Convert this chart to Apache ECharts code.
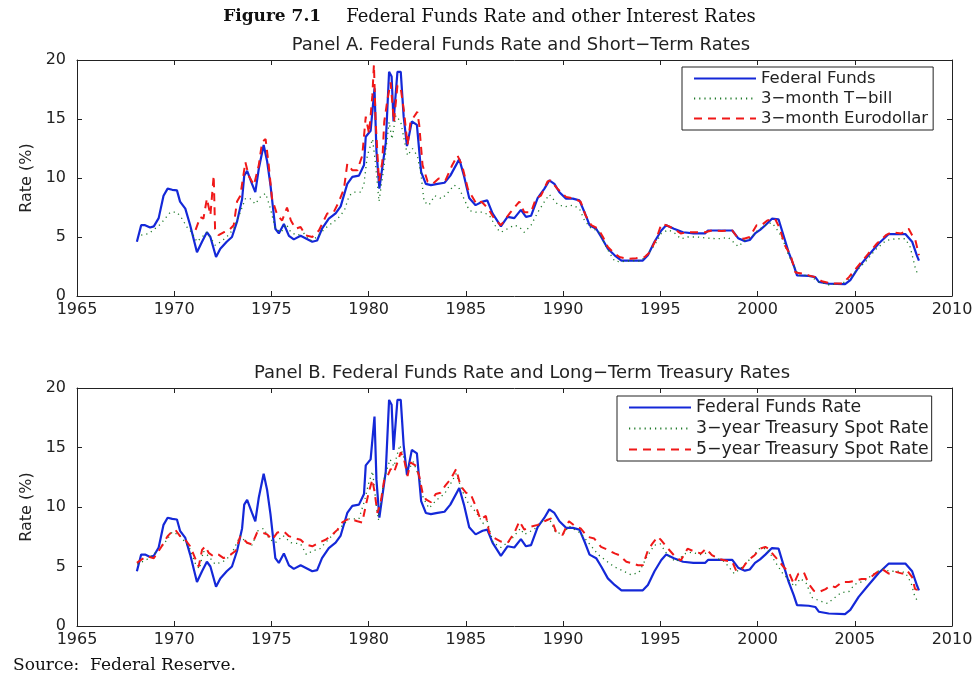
<!DOCTYPE html>
<html>
<head>
<meta charset="utf-8">
<script src="https://cdn.jsdelivr.net/npm/echarts@6/dist/echarts.min.js"></script>
<style>
  html, body { margin: 0; padding: 0; background: #fff; }
  #chart { width: 979px; height: 673px; }
</style>
</head>
<body>
<div id="chart"></div>
<script>
// Federal funds rate (monthly readings, [year, percent])
const fedFunds = [
  [1968.08,4.6],[1968.3,6.0],[1968.5,6.0],[1968.76,5.8],[1968.95,5.9],[1969.2,6.6],[1969.45,8.5],[1969.66,9.1],[1969.9,9.0],
  [1970.14,8.95],[1970.3,8.0],[1970.57,7.4],[1970.82,6.0],[1971.17,3.7],[1971.43,4.6],[1971.68,5.4],[1971.86,5.0],
  [1972.15,3.3],[1972.37,4.0],[1972.7,4.6],[1972.97,5.0],[1973.23,6.3],[1973.49,8.2],[1973.6,10.2],[1973.75,10.6],
  [1974.0,9.5],[1974.17,8.8],[1974.35,10.8],[1974.6,12.8],[1974.78,11.4],[1974.95,9.4],[1975.2,5.7],[1975.38,5.3],
  [1975.64,6.1],[1975.9,5.1],[1976.15,4.8],[1976.5,5.1],[1976.75,4.9],[1977.1,4.6],[1977.35,4.7],[1977.6,5.7],
  [1977.95,6.55],[1978.3,7.0],[1978.56,7.6],[1978.9,9.5],[1979.16,10.1],[1979.5,10.2],[1979.76,11.1],[1979.85,13.5],
  [1980.1,14.0],[1980.3,17.6],[1980.4,12.3],[1980.55,9.1],[1980.88,13.0],[1981.05,19.0],[1981.18,18.6],[1981.28,14.8],
  [1981.48,19.0],[1981.65,19.0],[1981.8,15.2],[1981.97,12.7],[1982.22,14.8],[1982.48,14.5],[1982.7,10.5],[1982.94,9.5],
  [1983.2,9.4],[1983.54,9.5],[1983.9,9.6],[1984.2,10.2],[1984.66,11.6],[1984.9,10.2],[1985.17,8.3],[1985.5,7.7],
  [1985.86,8.0],[1986.1,8.1],[1986.37,7.0],[1986.8,5.9],[1987.14,6.7],[1987.49,6.6],[1987.83,7.3],[1988.09,6.7],
  [1988.35,6.8],[1988.69,8.3],[1989.04,9.1],[1989.29,9.8],[1989.55,9.5],[1989.81,8.8],[1990.15,8.25],[1990.5,8.25],
  [1990.84,8.1],[1991.1,7.1],[1991.36,6.0],[1991.7,5.7],[1991.96,5.0],[1992.3,4.0],[1992.65,3.45],[1993.0,3.0],
  [1993.5,3.0],[1994.1,3.0],[1994.36,3.45],[1994.7,4.6],[1995.05,5.55],[1995.3,6.0],[1995.7,5.7],[1996.17,5.4],
  [1996.7,5.3],[1997.3,5.3],[1997.45,5.55],[1998.0,5.55],[1998.7,5.55],[1999.0,4.9],[1999.35,4.65],[1999.6,4.75],
  [1999.87,5.3],[2000.13,5.6],[2000.4,6.0],[2000.74,6.55],[2001.08,6.5],[2001.34,5.1],[2001.6,3.7],[2001.86,2.6],
  [2002.03,1.75],[2002.63,1.7],[2002.97,1.6],[2003.15,1.2],[2003.66,1.05],[2004.5,1.0],[2004.77,1.35],[2005.2,2.45],
  [2005.63,3.3],[2006.23,4.45],[2006.75,5.25],[2007.6,5.25],[2007.95,4.6],[2008.2,3.4],[2008.3,3.0]
];

// 3-month Treasury bill rate
const tBill3m = [
  [1968.3,5.15],[1968.7,5.3],[1969.3,6.1],[1969.8,7.1],[1970.14,7.1],[1970.4,6.55],[1970.65,5.85],[1970.9,5.4],
  [1971.17,4.6],[1971.43,5.0],[1971.68,5.4],[1971.86,5.0],[1972.1,4.3],[1972.4,4.6],[1972.7,5.0],[1973.06,5.7],
  [1973.4,7.1],[1973.66,8.25],[1973.9,8.25],[1974.17,7.8],[1974.43,8.4],[1974.7,8.7],[1974.95,7.4],[1975.2,5.7],
  [1975.5,5.4],[1975.76,6.1],[1976.0,5.4],[1976.3,5.15],[1976.7,5.3],[1977.0,4.7],[1977.35,5.0],[1977.74,5.7],
  [1978.05,6.1],[1978.4,6.55],[1978.75,7.25],[1979.0,8.5],[1979.25,8.8],[1979.6,8.8],[1979.76,9.5],[1979.93,11.9],
  [1980.2,13.3],[1980.36,11.1],[1980.53,8.0],[1980.8,11.1],[1981.05,14.75],[1981.2,13.3],[1981.4,15.3],[1981.65,14.75],
  [1981.82,13.3],[1982.0,11.9],[1982.25,12.5],[1982.5,11.9],[1982.7,10.2],[1982.85,8.0],[1983.1,7.7],[1983.4,8.5],
  [1983.75,8.25],[1984.05,8.7],[1984.4,9.4],[1984.66,9.1],[1984.9,8.25],[1985.17,7.25],[1985.5,7.1],[1985.86,7.1],
  [1986.2,6.85],[1986.6,5.7],[1986.8,5.4],[1987.14,5.7],[1987.5,6.0],[1987.75,5.85],[1988.0,5.4],[1988.35,6.0],
  [1988.7,7.1],[1989.04,8.0],[1989.29,8.6],[1989.7,7.8],[1990.05,7.55],[1990.5,7.7],[1990.84,7.4],[1991.1,6.4],
  [1991.45,5.7],[1991.8,5.55],[1992.05,4.7],[1992.3,3.9],[1992.65,2.95],[1993.0,2.9],[1993.5,3.0],[1994.0,2.95],
  [1994.36,3.6],[1994.7,4.3],[1995.05,5.3],[1995.4,5.6],[1995.7,5.4],[1996.05,4.85],[1996.4,5.0],[1996.9,5.0],
  [1997.45,4.9],[1997.95,4.85],[1998.5,4.95],[1999.0,4.2],[1999.35,4.7],[1999.7,5.0],[2000.0,5.55],[2000.5,6.1],
  [2000.75,6.2],[2001.1,5.4],[2001.34,4.6],[2001.6,3.45],[2001.86,2.6],[2002.1,1.75],[2002.63,1.75],[2003.15,1.2],
  [2003.66,0.95],[2004.35,1.05],[2004.7,1.45],[2005.0,2.0],[2005.55,2.9],[2006.05,3.9],[2006.6,4.7],[2007.1,4.85],
  [2007.6,4.85],[2007.85,4.15],[2008.1,2.45],[2008.25,1.75]
];

// 3-month Eurodollar deposit rate
const euroDollar3m = [
  [1971.1,5.6],[1971.34,6.7],[1971.5,6.55],[1971.68,8.25],[1971.86,6.85],[1972.03,10.2],[1972.1,5.7],[1972.28,5.15],
  [1972.54,5.4],[1972.8,5.55],[1973.06,6.0],[1973.23,8.0],[1973.4,8.5],[1973.66,11.35],[1973.83,10.2],[1974.1,9.4],
  [1974.35,11.1],[1974.52,13.05],[1974.7,13.3],[1974.86,11.1],[1975.03,8.25],[1975.3,6.85],[1975.55,6.4],[1975.8,7.5],
  [1976.0,6.4],[1976.24,5.7],[1976.5,5.85],[1976.75,5.15],[1977.1,5.0],[1977.44,5.55],[1977.87,7.0],[1978.2,7.1],
  [1978.47,8.0],[1978.73,9.1],[1978.9,11.2],[1979.16,10.65],[1979.42,10.65],[1979.67,11.9],[1979.85,15.2],[1980.02,13.75],
  [1980.19,17.0],[1980.27,19.6],[1980.36,14.75],[1980.53,9.7],[1980.7,11.35],[1980.8,14.75],[1980.97,16.7],[1981.13,18.1],
  [1981.3,14.75],[1981.48,17.85],[1981.65,17.6],[1981.82,15.6],[1982.0,12.8],[1982.15,14.75],[1982.5,15.6],[1982.6,14.5],
  [1982.77,11.1],[1983.03,9.7],[1983.3,9.5],[1983.6,9.95],[1983.95,9.8],[1984.3,11.1],[1984.57,11.9],[1984.8,11.1],
  [1985.1,9.1],[1985.3,8.5],[1985.55,7.8],[1985.8,8.0],[1986.15,7.4],[1986.46,6.55],[1986.8,6.0],[1987.3,7.1],
  [1987.75,8.0],[1988.0,7.1],[1988.35,7.1],[1988.6,8.25],[1988.86,8.5],[1989.2,9.7],[1989.35,9.8],[1989.7,9.1],
  [1990.15,8.4],[1990.55,8.25],[1990.9,8.0],[1991.15,6.85],[1991.45,6.0],[1991.8,5.7],[1992.05,5.0],[1992.3,4.15],
  [1992.65,3.6],[1992.9,3.3],[1993.35,3.15],[1993.75,3.2],[1994.2,3.3],[1994.45,3.7],[1994.8,4.85],[1995.05,6.1],
  [1995.3,6.0],[1995.7,5.7],[1996.05,5.3],[1996.4,5.4],[1996.75,5.4],[1997.3,5.4],[1997.65,5.55],[1998.15,5.5],
  [1998.7,5.55],[1998.95,5.0],[1999.3,4.85],[1999.6,5.0],[1999.95,6.0],[2000.2,6.0],[2000.5,6.4],[2000.9,6.55],
  [2001.15,5.7],[2001.4,4.3],[2001.7,3.45],[2001.95,2.0],[2002.3,1.9],[2002.63,1.75],[2002.97,1.6],[2003.3,1.25],
  [2003.8,1.05],[2004.35,1.05],[2004.7,1.6],[2005.0,2.2],[2005.4,3.0],[2005.7,3.6],[2006.14,4.45],[2006.6,5.15],
  [2006.9,5.4],[2007.4,5.3],[2007.77,5.7],[2007.95,5.15],[2008.1,4.85],[2008.3,3.45]
];

// 3-year Treasury spot rate
const treasury3y = [
  [1968.1,5.2],[1968.6,5.6],[1969.3,6.5],[1969.9,7.9],[1970.3,7.6],[1970.8,6.5],[1971.1,5.2],[1971.3,4.8],[1971.5,6.3],
  [1971.8,5.8],[1972.1,5.2],[1972.5,5.4],[1972.9,5.9],[1973.4,7.6],[1973.7,7.0],[1974.0,6.8],[1974.3,8.0],[1974.6,8.2],
  [1974.9,7.3],[1975.2,7.0],[1975.6,7.6],[1976.0,7.0],[1976.5,6.9],[1976.8,6.0],[1977.1,6.3],[1977.5,6.5],[1978.0,7.4],
  [1978.5,8.2],[1979.0,9.0],[1979.5,9.0],[1979.8,10.6],[1980.0,12.0],[1980.2,13.0],[1980.4,10.0],[1980.5,8.9],[1980.8,12.4],
  [1981.1,14.0],[1981.3,13.4],[1981.6,15.2],[1981.8,14.2],[1982.0,13.0],[1982.3,13.8],[1982.6,12.5],[1982.8,10.8],
  [1983.1,9.9],[1983.5,10.6],[1983.9,11.1],[1984.3,12.2],[1984.5,12.8],[1984.8,11.4],[1985.1,10.4],[1985.5,9.6],
  [1985.9,8.6],[1986.1,8.8],[1986.4,7.0],[1986.8,6.6],[1987.3,7.2],[1987.8,8.2],[1988.0,7.7],[1988.5,8.1],[1989.0,8.9],
  [1989.3,9.0],[1989.6,7.9],[1990.0,7.7],[1990.3,8.4],[1990.9,7.8],[1991.3,7.0],[1991.8,6.0],[1992.2,5.5],[1992.6,5.0],
  [1993.0,4.7],[1993.5,4.3],[1993.9,4.5],[1994.3,5.8],[1994.7,6.8],[1995.0,6.9],[1995.4,5.9],[1995.8,5.4],[1996.3,6.1],
  [1996.6,6.2],[1997.1,6.0],[1997.5,6.2],[1997.9,5.7],[1998.3,5.4],[1998.8,4.4],[1999.1,4.8],[1999.6,5.6],[2000.1,6.5],
  [2000.5,6.5],[2000.9,5.4],[2001.3,4.4],[2001.6,3.9],[2001.9,3.3],[2002.2,4.0],[2002.5,3.6],[2002.8,2.4],[2003.2,2.1],
  [2003.6,1.9],[2003.9,2.3],[2004.3,2.8],[2004.7,2.9],[2005.0,3.5],[2005.5,3.8],[2005.9,4.3],[2006.4,4.8],[2006.8,4.6],
  [2007.2,4.6],[2007.6,4.5],[2007.9,3.6],[2008.1,2.4],[2008.25,2.1]
];

// 5-year Treasury spot rate
const treasury5y = [
  [1968.08,5.3],[1968.33,5.6],[1968.6,5.85],[1968.95,5.7],[1969.3,6.55],[1969.66,7.55],[1969.9,7.95],[1970.05,8.1],
  [1970.3,7.55],[1970.57,7.25],[1970.82,6.7],[1971.1,5.6],[1971.26,5.0],[1971.43,6.4],[1971.6,6.7],[1971.77,6.15],
  [1972.03,5.85],[1972.28,6.0],[1972.54,5.7],[1972.9,6.0],[1973.15,6.3],[1973.4,7.55],[1973.75,7.0],[1974.0,6.85],
  [1974.26,7.85],[1974.52,7.85],[1974.78,7.7],[1975.03,7.25],[1975.3,7.85],[1975.64,7.95],[1975.9,7.55],[1976.15,7.4],
  [1976.5,7.25],[1976.75,6.85],[1977.1,6.7],[1977.44,7.0],[1977.78,7.25],[1978.05,7.55],[1978.4,8.1],[1978.64,8.7],
  [1978.9,8.95],[1979.16,8.95],[1979.42,8.8],[1979.67,8.7],[1979.85,10.1],[1980.0,11.2],[1980.19,12.3],[1980.31,11.2],
  [1980.45,9.5],[1980.62,10.4],[1980.8,12.3],[1980.97,12.6],[1981.13,13.2],[1981.3,12.9],[1981.48,13.75],[1981.65,14.6],
  [1981.82,14.0],[1982.0,12.6],[1982.15,13.75],[1982.4,13.5],[1982.6,12.6],[1982.77,11.2],[1982.94,10.65],[1983.2,10.4],
  [1983.45,11.1],[1983.7,11.2],[1983.94,11.8],[1984.2,12.3],[1984.5,13.2],[1984.72,11.8],[1985.0,11.2],[1985.24,11.1],
  [1985.5,10.1],[1985.75,8.95],[1986.03,9.25],[1986.2,7.85],[1986.46,7.4],[1986.8,7.1],[1987.15,7.0],[1987.5,7.85],
  [1987.75,8.8],[1988.0,8.1],[1988.35,8.35],[1988.7,8.5],[1989.04,8.8],[1989.38,9.05],[1989.63,7.95],[1989.97,7.65],
  [1990.3,8.8],[1990.65,8.35],[1990.9,8.2],[1991.25,7.5],[1991.6,7.35],[1991.95,6.65],[1992.3,6.4],[1992.65,6.1],
  [1992.9,5.95],[1993.25,5.4],[1993.6,5.25],[1993.85,5.1],[1994.1,5.1],[1994.36,6.35],[1994.6,6.95],[1994.87,7.5],
  [1995.05,7.2],[1995.4,6.5],[1995.7,5.95],[1996.05,5.5],[1996.4,6.5],[1996.75,6.25],[1997.1,6.1],[1997.35,6.5],
  [1997.65,5.95],[1998.0,5.65],[1998.35,5.5],[1998.7,5.4],[1998.9,4.65],[1999.2,4.8],[1999.5,5.5],[1999.85,5.95],
  [2000.13,6.5],[2000.4,6.65],[2000.57,6.5],[2000.83,5.95],[2001.08,5.5],[2001.34,4.95],[2001.6,4.55],[2001.86,3.55],
  [2002.1,4.4],[2002.37,4.55],[2002.63,3.55],[2002.9,2.95],[2003.15,2.85],[2003.5,3.1],[2003.75,3.4],[2004.0,3.25],
  [2004.35,3.7],[2004.7,3.7],[2005.0,3.8],[2005.35,3.95],[2005.7,3.95],[2006.05,4.4],[2006.4,4.8],[2006.75,4.4],
  [2007.1,4.55],[2007.45,4.4],[2007.7,4.65],[2007.95,4.1],[2008.1,3.1],[2008.3,3.0]
];

const yearMin = 1965, yearMax = 2010, yearStep = 5;
const rateMin = 0, rateMax = 20, rateStep = 5;

const C_BLUE = '#1428d8';
const C_GREEN = '#1e7a2a';
const C_RED = '#f01818';
const SANS = '"DejaVu Sans", "Liberation Sans", Arial, sans-serif';
const SERIF = '"DejaVu Serif", "Liberation Serif", serif';

const chart = echarts.init(document.getElementById('chart'), null, { renderer: 'canvas' });

function xAxisFor(gridIndex, top) {
  return {
    type: 'value', gridIndex, min: yearMin, max: yearMax, interval: yearStep,
    position: top ? 'top' : 'bottom',
    axisLine: { show: true, onZero: false, lineStyle: { color: '#222', width: 1 } },
    axisTick: { show: true, inside: true, length: 5, lineStyle: { color: '#222' } },
    axisLabel: top ? { show: false } : {
      show: true, margin: 6, color: '#222', fontSize: 16, fontFamily: SANS,
      formatter: v => String(v)
    },
    splitLine: { show: false }
  };
}
function yAxisFor(gridIndex, right) {
  return {
    type: 'value', gridIndex, min: rateMin, max: rateMax, interval: rateStep,
    position: right ? 'right' : 'left',
    name: right ? '' : 'Rate (%)', nameLocation: 'middle', nameGap: 36, nameRotate: 90,
    nameTextStyle: { color: '#222', fontSize: 16, fontFamily: SANS },
    axisLine: { show: true, onZero: false, lineStyle: { color: '#222', width: 1 } },
    axisTick: { show: true, inside: true, length: 5, lineStyle: { color: '#222' } },
    axisLabel: right ? { show: false } : {
      show: true, margin: 11, color: '#222', fontSize: 16, fontFamily: SANS
    },
    splitLine: { show: false }
  };
}
function line(name, data, xi, yi, color, type, width) {
  return {
    name, type: 'line', data, xAxisIndex: xi, yAxisIndex: yi,
    symbol: 'none', smooth: false, animation: false,
    lineStyle: { color, type, width }, itemStyle: { color },
    z: color === C_BLUE ? 3 : 4
  };
}
function legendFor(names, left, top, padRight, fontSize, gap) {
  return {
    data: names, orient: 'vertical', left, top, selectedMode: false,
    itemWidth: 62, itemHeight: 14, itemGap: gap,
    padding: [3, padRight, 3, 11],
    itemStyle: { opacity: 0 },
    backgroundColor: '#fff', borderColor: '#222', borderWidth: 1,
    textStyle: { color: '#222', fontSize, fontFamily: SANS }
  };
}

const option = {
  backgroundColor: '#fff',
  animation: false,
  title: [
    {
      left: 'center', top: 3,
      text: '{a|Figure 7.1}     {b|Federal Funds Rate and other Interest Rates}',
      textStyle: {
        rich: {
          a: { fontFamily: SERIF, fontWeight: 'bold', fontSize: 17, color: '#111' },
          b: { fontFamily: SERIF, fontWeight: 'normal', fontSize: 18, color: '#111' }
        }
      }
    },
    {
      left: 516, top: 31, textAlign: 'center',
      text: 'Panel A. Federal Funds Rate and Short\u2212Term Rates',
      textStyle: { fontFamily: SANS, fontWeight: 'normal', fontSize: 18, color: '#222' }
    },
    {
      left: 517, top: 359, textAlign: 'center',
      text: 'Panel B. Federal Funds Rate and Long\u2212Term Treasury Rates',
      textStyle: { fontFamily: SANS, fontWeight: 'normal', fontSize: 18, color: '#222' }
    },
    {
      left: 8, top: 652,
      text: 'Source:  Federal Reserve.',
      textStyle: { fontFamily: SERIF, fontWeight: 'normal', fontSize: 17, color: '#111' }
    }
  ],
  grid: [
    { left: 77, top: 60, width: 875, height: 236 },
    { left: 77, top: 388, width: 875, height: 238 }
  ],
  xAxis: [xAxisFor(0, false), xAxisFor(0, true), xAxisFor(1, false), xAxisFor(1, true)],
  yAxis: [yAxisFor(0, false), yAxisFor(0, true), yAxisFor(1, false), yAxisFor(1, true)],
  legend: [
    legendFor(['Federal Funds', '3\u2212month T\u2212bill', '3\u2212month Eurodollar'], 682, 67, 5, 16.5, 3),
    legendFor(['Federal Funds Rate', '3\u2212year Treasury Spot Rate', '5\u2212year Treasury Spot Rate'], 617, 396, 3, 17.3, 4)
  ],
  series: [
    line('Federal Funds', fedFunds, 0, 0, C_BLUE, 'solid', 2.2),
    line('3\u2212month T\u2212bill', tBill3m, 0, 0, C_GREEN, [1.2, 4], 1.3),
    line('3\u2212month Eurodollar', euroDollar3m, 0, 0, C_RED, [8, 6], 2),
    line('Federal Funds Rate', fedFunds, 2, 2, C_BLUE, 'solid', 2.2),
    line('3\u2212year Treasury Spot Rate', treasury3y, 2, 2, C_GREEN, [1.2, 4], 1.3),
    line('5\u2212year Treasury Spot Rate', treasury5y, 2, 2, C_RED, [8, 6], 2)
  ]
};

chart.setOption(option);
</script>
</body>
</html>
